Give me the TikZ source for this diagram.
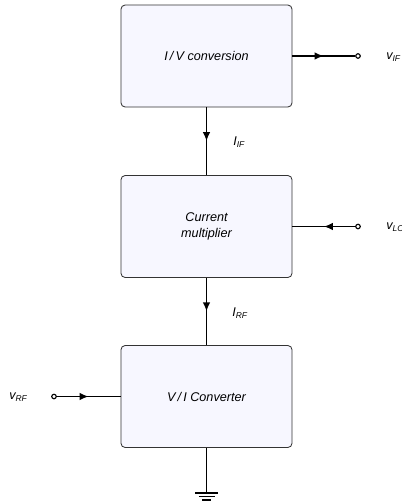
\documentclass[tikz,border=0pt]{standalone}
\usepackage{fontspec}
\setmainfont{Liberation Sans}
\usetikzlibrary{arrows.meta,decorations.markings,calc}

\begin{document}
\begin{tikzpicture}[
  x=0.025cm, y=-0.025cm,
  block/.style={rectangle, draw=black!80, fill=blue!3, rounded corners=3pt,
                minimum width=4.275cm, minimum height=2.55cm,
                align=center, font=\small\itshape, line width=0.6pt},
  term/.style={circle, draw=black, fill=white, inner sep=0pt,
               minimum size=3.2pt, line width=0.8pt},
  lbl/.style={font=\small\itshape, inner sep=0pt},
  wire/.style={line width=1.4pt},
  midarr/.style={postaction={decorate}, decoration={markings,
                 mark=at position 0.5 with {\arrow{Latex[length=6.5pt,width=5.5pt]}}}}
]
\useasboundingbox (0,0) rectangle (402,501);

% blocks
\node[block] (iv)  at (206.5,56)    {I\,/\,V conversion};
\node[block] (mul) at (206.5,226.5) {Current\\multiplier};
\node[block] (vi)  at (206.5,396.5) {V\,/\,I Converter};

% terminals
\node[term] (tif) at (358,56)    {};
\node[term] (tlo) at (358,226.5) {};
\node[term] (trf) at (54,396.5)  {};
\coordinate (gnd) at (206.5,493);

% labels
\node[lbl, anchor=west] (lif) at (386,57)  {v\textsubscript{IF}};
\node[lbl, anchor=west] (llo) at (386,227) {v\textsubscript{LO}};
\node[lbl, anchor=west] (lrf) at (9,397)   {v\textsubscript{RF}};
\node[lbl, anchor=west] (iif) at (233,142) {I\textsubscript{IF}};
\node[lbl, anchor=west] (irf) at (232,313) {I\textsubscript{RF}};

% connectors
\draw[wire, midarr] (iv.east) -- (tif.west);
\draw[wire, midarr] (iv.south) -- (mul.north);
\draw[wire, midarr] (tlo.west) -- (mul.east);
\draw[wire, midarr] (mul.south) -- (vi.north);
\draw[wire, midarr] (trf.east) -- (vi.west);

% ground
\draw[line width=0.6pt] (vi.south) -- (gnd);
\draw[line width=0.8pt] ($(gnd)+(-11.5,0)$) -- ++(23,0);
\draw[line width=0.8pt] ($(gnd)+(-8,3.5)$) -- ++(16,0);
\draw[line width=0.8pt] ($(gnd)+(-4.5,7)$) -- ++(9,0);
\end{tikzpicture}
\end{document}
